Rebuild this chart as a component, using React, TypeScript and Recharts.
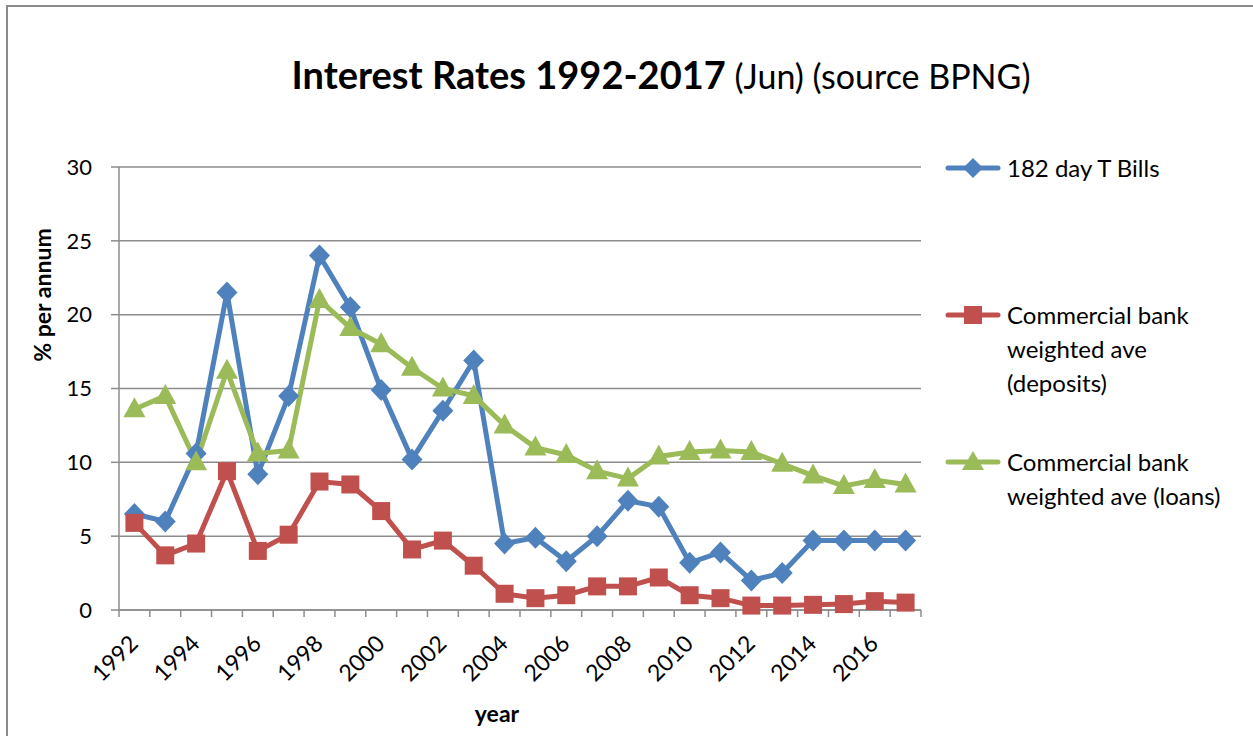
import React from 'react';
import { LineChart, Line, XAxis, YAxis, CartesianGrid } from 'recharts';

const years = ['1992','1993','1994','1995','1996','1997','1998','1999','2000','2001','2002','2003','2004','2005','2006','2007','2008','2009','2010','2011','2012','2013','2014','2015','2016','2017'];
const tBills = [6.5,6.0,10.6,21.5,9.2,14.5,24.0,20.5,14.9,10.2,13.5,16.9,4.5,4.9,3.3,5.0,7.4,7.0,3.2,3.9,2.0,2.5,4.7,4.7,4.7,4.7];
const deposits = [5.9,3.7,4.5,9.4,4.0,5.1,8.7,8.5,6.7,4.1,4.7,3.0,1.1,0.8,1.0,1.6,1.6,2.2,1.0,0.8,0.3,0.3,0.35,0.4,0.6,0.5];
const loans = [13.6,14.5,10.0,16.2,10.6,10.8,21.0,19.1,18.0,16.4,15.0,14.5,12.5,11.0,10.5,9.4,8.9,10.4,10.7,10.8,10.7,9.9,9.1,8.4,8.8,8.5];
const yTicks = [0, 5, 10, 15, 20, 25, 30];
const seriesNames = ['182 day T Bills', 'Commercial bank weighted ave (deposits)', 'Commercial bank weighted ave (loans)'];

const data = years.map((y, i) => ({ year: y, tBills: tBills[i], deposits: deposits[i], loans: loans[i] }));

const BLUE = '#4F81BD';
const RED = '#C0504D';
const GREEN = '#9BBB59';
const GRID = '#8c8c8c';
const FONT = 'Lato, "Open Sans", sans-serif';

const Diamond = (p: any) => {
  const { cx, cy, index } = p;
  if (cx == null || cy == null) return <g key={index} />;
  return <path key={index} d={`M${cx},${cy - 11}L${cx + 10.5},${cy}L${cx},${cy + 11}L${cx - 10.5},${cy}Z`} fill={BLUE} />;
};
const Square = (p: any) => {
  const { cx, cy, index } = p;
  if (cx == null || cy == null) return <g key={index} />;
  return <rect key={index} x={cx - 9} y={cy - 9} width={18} height={18} fill={RED} />;
};
const Triangle = (p: any) => {
  const { cx, cy, index } = p;
  if (cx == null || cy == null) return <g key={index} />;
  return <path key={index} d={`M${cx},${cy - 12}L${cx + 11},${cy + 8}L${cx - 11},${cy + 8}Z`} fill={GREEN} />;
};

const XTick = (props: any) => {
  const { x, y, payload, index } = props;
  const off = payload && payload.offset != null ? payload.offset : 15.4;
  const lx = x + 5;
  const ly = y + 35;
  return (
    <g>
      <line x1={x - off} x2={x - off} y1={y} y2={y + 7} stroke={GRID} strokeWidth={1.5} />
      {index === years.length - 1 && (
        <line x1={x + off} x2={x + off} y1={y} y2={y + 7} stroke={GRID} strokeWidth={1.5} />
      )}
      {index % 2 === 0 && (
        <text x={lx} y={ly} transform={`rotate(-45, ${lx}, ${ly})`} textAnchor="end" fontSize={23} fontFamily={FONT} fill="#000">
          {payload.value}
        </text>
      )}
    </g>
  );
};

const Swatch = ({ color, kind }: { color: string; kind: string }) => (
  <svg width={56} height={24} style={{ display: 'block' }}>
    <line x1={3} x2={53} y1={12} y2={12} stroke={color} strokeWidth={5} strokeLinecap="round" />
    {kind === 'diamond' && <path d="M28,2L38,12L28,22L18,12Z" fill={color} />}
    {kind === 'square' && <rect x={19} y={3} width={18} height={18} fill={color} />}
    {kind === 'triangle' && <path d="M28,1L39,20L17,20Z" fill={color} />}
  </svg>
);

const legendItems = [
  { name: seriesNames[0], lines: ['182 day T Bills'], color: BLUE, kind: 'diamond', top: 161 },
  { name: seriesNames[1], lines: ['Commercial bank', 'weighted ave', '(deposits)'], color: RED, kind: 'square', top: 308 },
  { name: seriesNames[2], lines: ['Commercial bank', 'weighted ave (loans)'], color: GREEN, kind: 'triangle', top: 455 },
];

export default function App() {
  return (
    <div
      style={{
        position: 'absolute',
        left: 6,
        top: 5,
        width: 1247,
        height: 731,
        borderTop: '2px solid #8a8a8a',
        borderLeft: '2px solid #8a8a8a',
        boxSizing: 'border-box',
        overflow: 'hidden',
        background: '#fff',
        fontFamily: FONT,
      }}
    >
      <div
        style={{
          position: 'absolute',
          left: 0,
          width: 1306,
          top: 45,
          textAlign: 'center',
          whiteSpace: 'nowrap',
          lineHeight: '44px',
          color: '#000',
        }}
      >
        <span style={{ fontWeight: 700, fontSize: 38 }}>Interest Rates 1992-2017</span>
        <span style={{ fontSize: 34 }}> (Jun) (source BPNG)</span>
      </div>

      <LineChart
        width={1245}
        height={729}
        data={data}
        margin={{ top: 160, right: 332, bottom: 46, left: 51 }}
      >
        <CartesianGrid vertical={false} stroke={GRID} strokeWidth={1.5} />
        <XAxis
          dataKey="year"
          scale="band"
          interval={0}
          height={80}
          tickSize={0}
          tickMargin={0}
          tickLine={false}
          axisLine={{ stroke: GRID, strokeWidth: 1.5 }}
          tick={<XTick />}
        />
        <YAxis
          domain={[0, 30]}
          ticks={yTicks}
          interval={0}
          width={60}
          tickSize={8}
          tickMargin={19}
          axisLine={{ stroke: GRID, strokeWidth: 1.5 }}
          tickLine={{ stroke: GRID, strokeWidth: 1.5 }}
          tick={{ fontSize: 22, fill: '#000', fontFamily: FONT }}
        />
        <Line name={seriesNames[0]} type="linear" dataKey="tBills" stroke={BLUE} strokeWidth={5} dot={Diamond} activeDot={false} isAnimationActive={false} />
        <Line name={seriesNames[1]} type="linear" dataKey="deposits" stroke={RED} strokeWidth={5} dot={Square} activeDot={false} isAnimationActive={false} />
        <Line name={seriesNames[2]} type="linear" dataKey="loans" stroke={GREEN} strokeWidth={5} dot={Triangle} activeDot={false} isAnimationActive={false} />
      </LineChart>

      <div
        style={{
          position: 'absolute',
          left: 34,
          top: 288,
          transform: 'translate(-50%, -50%) rotate(-90deg)',
          fontWeight: 700,
          fontSize: 23,
          whiteSpace: 'nowrap',
          color: '#000',
        }}
      >
        % per annum
      </div>
      <div
        style={{
          position: 'absolute',
          left: 489,
          top: 706,
          transform: 'translate(-50%, -50%)',
          fontWeight: 700,
          fontSize: 23,
          whiteSpace: 'nowrap',
          color: '#000',
        }}
      >
        year
      </div>

      {legendItems.map((it) => (
        <div key={it.name} style={{ position: 'absolute', left: 937, top: it.top - 17, display: 'flex', alignItems: 'flex-start' }}>
          <div style={{ marginTop: 5 }}>
            <Swatch color={it.color} kind={it.kind} />
          </div>
          <div style={{ fontSize: 24, lineHeight: '34px', color: '#000', marginLeft: 6, whiteSpace: 'nowrap' }}>
            {it.lines.map((l) => (
              <div key={l}>{l}</div>
            ))}
          </div>
        </div>
      ))}
    </div>
  );
}
